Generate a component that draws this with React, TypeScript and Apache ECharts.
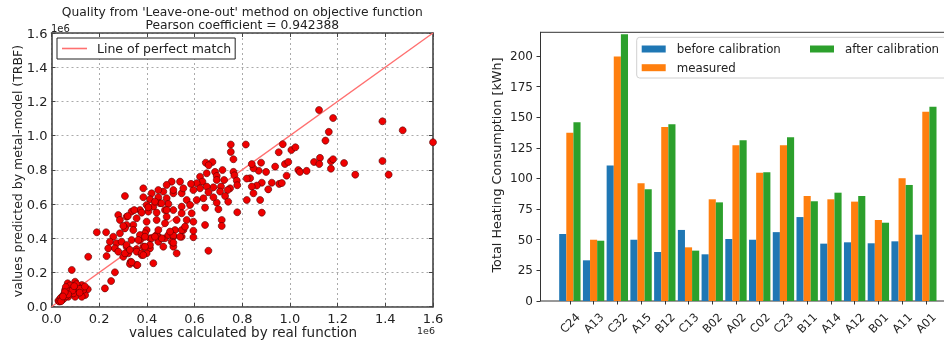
import React, { useEffect, useRef } from "react";
import * as echarts from "echarts";

// ---------- Left chart: leave-one-out quality (values in units of 1e6) ----------
const realVsPredicted: [number, number][] = [
  [1.122, 1.15], [1.181, 1.103], [1.388, 1.084], [1.473, 1.031], [1.6, 0.961], [1.163, 1.022],
  [1.149, 0.971], [0.97, 0.95], [0.953, 0.903], [1.006, 0.916], [1.023, 0.932], [0.879, 0.842],
  [0.938, 0.819], [0.979, 0.834], [0.993, 0.846], [1.101, 0.846], [1.126, 0.87], [1.123, 0.834],
  [1.172, 0.85], [1.181, 0.862], [1.172, 0.807], [1.227, 0.84], [1.388, 0.852], [1.274, 0.772],
  [1.414, 0.772], [1.035, 0.799], [1.042, 0.788], [1.07, 0.794], [0.986, 0.766], [0.955, 0.718],
  [0.966, 0.723], [0.909, 0.686], [0.882, 0.725], [0.861, 0.708], [0.84, 0.702], [0.847, 0.663],
  [0.9, 0.788], [0.869, 0.795], [0.847, 0.809], [0.84, 0.834], [0.833, 0.751],
  [0.752, 0.948], [0.752, 0.905], [0.815, 0.948], [0.763, 0.862], [0.647, 0.842], [0.675, 0.846],
  [0.659, 0.827], [0.717, 0.799], [0.763, 0.788], [0.767, 0.768], [0.686, 0.788], [0.693, 0.764],
  [0.651, 0.78], [0.623, 0.76], [0.633, 0.731], [0.693, 0.741], [0.724, 0.741], [0.777, 0.737],
  [0.819, 0.749], [0.779, 0.71], [0.749, 0.692], [0.711, 0.702], [0.679, 0.698], [0.651, 0.702],
  [0.609, 0.722], [0.623, 0.692], [0.595, 0.682], [0.585, 0.718], [0.658, 0.669], [0.707, 0.673],
  [0.739, 0.682], [0.728, 0.647], [0.741, 0.614], [0.693, 0.608], [0.679, 0.64], [0.637, 0.634],
  [0.609, 0.624], [0.567, 0.624], [0.546, 0.663], [0.511, 0.663], [0.553, 0.692], [0.539, 0.731],
  [0.504, 0.731], [0.511, 0.682], [0.483, 0.712], [0.469, 0.673], [0.448, 0.682], [0.42, 0.663],
  [0.385, 0.692], [0.385, 0.64], [0.413, 0.628], [0.448, 0.64], [0.483, 0.634], [0.49, 0.601],
  [0.455, 0.605], [0.427, 0.585], [0.399, 0.595], [0.371, 0.565], [0.406, 0.556], [0.441, 0.55],
  [0.476, 0.565], [0.511, 0.565], [0.546, 0.585], [0.581, 0.595], [0.546, 0.546], [0.588, 0.546],
  [0.644, 0.579], [0.7, 0.57], [0.714, 0.507], [0.714, 0.472], [0.644, 0.478], [0.567, 0.507],
  [0.525, 0.507], [0.483, 0.526], [0.441, 0.507], [0.399, 0.497], [0.357, 0.517], [0.308, 0.647],
  [0.28, 0.536], [0.287, 0.507], [0.315, 0.526], [0.336, 0.556], [0.343, 0.478], [0.315, 0.478],
  [0.779, 0.552], [0.819, 0.624], [0.875, 0.624], [0.882, 0.55], [0.924, 0.725],
  [0.399, 0.448], [0.518, 0.448], [0.553, 0.448], [0.371, 0.39], [0.413, 0.4], [0.448, 0.409],
  [0.476, 0.4], [0.511, 0.409], [0.546, 0.409], [0.595, 0.406], [0.413, 0.341], [0.469, 0.351],
  [0.511, 0.351], [0.19, 0.435], [0.229, 0.435], [0.259, 0.409], [0.245, 0.38], [0.273, 0.371],
  [0.238, 0.341], [0.266, 0.341], [0.28, 0.322], [0.231, 0.296], [0.154, 0.292], [0.301, 0.292],
  [0.322, 0.312], [0.332, 0.263], [0.329, 0.25], [0.357, 0.244], [0.427, 0.254], [0.266, 0.201],
  [0.25, 0.15], [0.224, 0.107], [0.085, 0.215], [0.357, 0.336], [0.378, 0.302], [0.399, 0.312],
  [0.385, 0.351], [0.413, 0.361], [0.448, 0.38], [0.462, 0.4], [0.49, 0.419], [0.511, 0.415],
  [0.525, 0.312], [0.546, 0.448], [0.658, 0.327], [0.595, 0.497], [0.56, 0.468], [0.441, 0.419],
  [0.42, 0.4], [0.392, 0.429], [0.371, 0.419], [0.343, 0.448], [0.308, 0.458], [0.336, 0.39],
  [0.315, 0.351], [0.294, 0.38], [0.301, 0.472], [0.287, 0.429], [0.32, 0.53], [0.347, 0.565],
  [0.378, 0.55], [0.406, 0.581], [0.434, 0.614], [0.462, 0.605], [0.483, 0.565], [0.315, 0.361],
  [0.308, 0.312], [0.329, 0.332], [0.357, 0.322], [0.378, 0.312], [0.392, 0.351], [0.364, 0.39],
  [0.392, 0.409], [0.434, 0.409], [0.448, 0.448], [0.476, 0.488], [0.497, 0.439], [0.504, 0.38],
  [0.36, 0.244], [0.336, 0.26], [0.511, 0.374], [0.539, 0.409], [0.595, 0.444], [0.385, 0.302],
  [0.068, 0.137], [0.099, 0.146], [0.127, 0.127], [0.152, 0.102], [0.141, 0.068], [0.112, 0.088],
  [0.085, 0.108], [0.057, 0.098], [0.05, 0.068], [0.07, 0.058], [0.099, 0.058], [0.036, 0.043],
  [0.029, 0.035], [0.043, 0.055], [0.127, 0.058], [0.092, 0.078], [0.064, 0.078], [0.112, 0.113],
  [0.133, 0.098], [0.078, 0.125], [0.105, 0.132], [0.12, 0.105], [0.06, 0.115], [0.075, 0.09],
  [0.045, 0.04], [0.038, 0.05], [0.052, 0.048], [0.033, 0.03], [0.04, 0.032], [0.062, 0.062],
  [0.088, 0.095], [0.14, 0.118], [0.095, 0.12], [0.07, 0.072], [0.056, 0.085], [0.048, 0.06],
  [0.118, 0.082],
];
const perfectMatch: [number, number][] = [[0, 0], [1.6, 1.6]];
const scatterMin = 0;
const scatterMax = 1.6;
const scatterStep = 0.2;

// ---------- Right chart: heating consumption per building (kWh) ----------
const buildings = ["C24", "A13", "C32", "A15", "B12", "C13", "B02", "A02", "C02", "C23", "B11", "A14", "A12", "B01", "A11", "A01"];
const beforeCalibration = [54.7, 33.2, 110.5, 50.0, 40.0, 58.0, 38.1, 50.6, 50.0, 56.2, 68.5, 46.8, 47.9, 47.1, 48.7, 54.1];
const measured = [137.4, 50.0, 199.5, 96.1, 142.0, 43.8, 83.0, 127.1, 104.7, 127.1, 85.7, 83.0, 81.1, 66.1, 100.2, 154.5];
const afterCalibration = [145.9, 49.2, 217.7, 91.2, 144.2, 41.1, 80.5, 131.2, 105.0, 133.6, 81.4, 88.4, 85.7, 63.9, 94.7, 158.6];
const barTicks = [0, 25, 50, 75, 100, 125, 150, 175, 200];

const FONT = "DejaVu Sans";

export default function App() {
  const ref = useRef<HTMLDivElement>(null);
  useEffect(() => {
    if (!ref.current) return;
    const chart = echarts.init(ref.current, null, { renderer: "svg" });
    const frameColor = "#444";
    const grid0 = { left: 51.5, top: 33, width: 381.5, height: 273.7 };
    const grid1 = { left: 558, top: 32.3, width: 379.7, height: 268.7 };
    const leftValueAxis = {
      type: "value",
      min: scatterMin,
      max: scatterMax,
      interval: scatterStep,
      axisLine: { show: true, onZero: false, lineStyle: { color: frameColor, width: 1.6 } },
      axisTick: { show: true, inside: true, length: 4, lineStyle: { color: frameColor } },
    };
    const legendText = { fontSize: 11.8, lineHeight: 14, color: "#222", fontFamily: FONT, padding: [0, 0, 0, 6] };
    chart.setOption({
      animation: false,
      textStyle: { fontFamily: FONT },
      grid: [
        { ...grid0, containLabel: false },
        { ...grid1, containLabel: false },
      ],
      xAxis: [
        {
          ...leftValueAxis,
          gridIndex: 0,
          position: "bottom",
          axisLabel: { show: true, margin: 5, fontSize: 13, color: "#222", fontFamily: FONT, formatter: (v: number) => v.toFixed(1) },
          splitLine: { show: true, lineStyle: { type: [2, 3], color: "#aaa", width: 1 } },
        },
        {
          ...leftValueAxis,
          gridIndex: 0,
          position: "top",
          axisLabel: { show: false },
          splitLine: { show: false },
        },
        {
          type: "category",
          gridIndex: 1,
          data: buildings,
          axisLine: { show: false },
          axisTick: { show: true, alignWithLabel: true, length: 3.5, lineStyle: { color: "#333" } },
          axisLabel: { rotate: 45, align: "center", verticalAlign: "middle", margin: 22, fontSize: 11.5, color: "#222", fontFamily: FONT },
        },
      ],
      yAxis: [
        {
          ...leftValueAxis,
          gridIndex: 0,
          position: "left",
          axisLabel: { show: true, margin: 4, fontSize: 13, color: "#222", fontFamily: FONT, formatter: (v: number) => v.toFixed(1) },
          splitLine: { show: true, lineStyle: { type: [2, 3], color: "#aaa", width: 1 } },
        },
        {
          ...leftValueAxis,
          gridIndex: 0,
          position: "right",
          axisLabel: { show: false },
          splitLine: { show: false },
        },
        {
          type: "value",
          gridIndex: 1,
          min: 0,
          max: 219.3,
          interval: 25,
          offset: 18,
          axisLine: { show: true, lineStyle: { color: "#333", width: 1 } },
          axisTick: { show: true, length: 3.5, customValues: barTicks, lineStyle: { color: "#333" } },
          axisLabel: { margin: 7, fontSize: 12, color: "#222", fontFamily: FONT, customValues: barTicks },
          splitLine: { show: false },
        },
      ],
      legend: [
        {
          data: [{ name: "Line of perfect match", icon: "rect" }],
          left: 57,
          top: 38,
          orient: "vertical",
          backgroundColor: "#fff",
          borderColor: "#222",
          borderWidth: 1,
          borderRadius: 0,
          padding: [3.5, 4, 3.5, 5],
          itemWidth: 25,
          itemHeight: 1.6,
          textStyle: { fontSize: 12.5, lineHeight: 14, color: "#222", fontFamily: FONT, padding: [0, 0, 0, 5] },
        },
        {
          data: ["before calibration", "measured"],
          left: 641.7,
          top: 42,
          orient: "vertical",
          padding: 0,
          itemWidth: 24,
          itemHeight: 7,
          itemGap: 4.7,
          icon: "rect",
          textStyle: legendText,
        },
        {
          data: ["after calibration"],
          left: 810,
          top: 42,
          orient: "vertical",
          padding: 0,
          itemWidth: 24,
          itemHeight: 7,
          icon: "rect",
          textStyle: legendText,
        },
      ],
      graphic: [
        { type: "rect", z: 3, shape: { x: 636.7, y: 37.3, width: 330, height: 40.7, r: 3 }, style: { fill: "rgba(255,255,255,0.85)", stroke: "#d0d0d0", lineWidth: 1 } },
        { type: "line", shape: { x1: 540, y1: 32.3, x2: 944, y2: 32.3 }, style: { stroke: "#333", lineWidth: 1 } },
        { type: "line", shape: { x1: 540, y1: 301, x2: 944, y2: 301 }, style: { stroke: "#333", lineWidth: 1 } },
        { type: "text", x: 242.3, y: 12, style: { text: "Quality from 'Leave-one-out' method on objective function", font: `12.3px '${FONT}'`, fill: "#222", align: "center", verticalAlign: "middle" } },
        { type: "text", x: 242.3, y: 25, style: { text: "Pearson coefficient = 0.942388", font: `12.3px '${FONT}'`, fill: "#222", align: "center", verticalAlign: "middle" } },
        { type: "text", x: 51, y: 28, style: { text: "1e6", font: `10px '${FONT}'`, fill: "#222", align: "left", verticalAlign: "middle" } },
        { type: "text", x: 435, y: 330.5, style: { text: "1e6", font: `9.5px '${FONT}'`, fill: "#222", align: "right", verticalAlign: "middle" } },
        { type: "text", x: 243, y: 332, style: { text: "values calculated by real function", font: `13.5px '${FONT}'`, fill: "#222", align: "center", verticalAlign: "middle" } },
        { type: "text", x: 17.5, y: 171, rotation: Math.PI / 2, style: { text: "values predicted by metal-model (TRBF)", font: `12.5px '${FONT}'`, fill: "#222", align: "center", verticalAlign: "middle" } },
        { type: "text", x: 496, y: 165, rotation: Math.PI / 2, style: { text: "Total Heating Consumption [kWh]", font: `12.8px '${FONT}'`, fill: "#222", align: "center", verticalAlign: "middle" } },
      ],
      series: [
        {
          name: "Line of perfect match",
          type: "line",
          xAxisIndex: 0,
          yAxisIndex: 0,
          data: perfectMatch,
          symbol: "none",
          lineStyle: { color: "#ff7070", width: 1.4 },
          itemStyle: { color: "#ff7070" },
          z: 2,
        },
        {
          name: "LOO predictions",
          type: "scatter",
          xAxisIndex: 0,
          yAxisIndex: 0,
          data: realVsPredicted,
          symbolSize: 7,
          itemStyle: { color: "#f00000", borderColor: "#500", borderWidth: 0.6, opacity: 1 },
          z: 3,
        },
        {
          name: "before calibration",
          type: "bar",
          xAxisIndex: 2,
          yAxisIndex: 2,
          data: beforeCalibration,
          barWidth: 7.12,
          barGap: "0%",
          itemStyle: { color: "#1f77b4" },
        },
        {
          name: "measured",
          type: "bar",
          xAxisIndex: 2,
          yAxisIndex: 2,
          data: measured,
          barWidth: 7.12,
          barGap: "0%",
          itemStyle: { color: "#ff7f0e" },
        },
        {
          name: "after calibration",
          type: "bar",
          xAxisIndex: 2,
          yAxisIndex: 2,
          data: afterCalibration,
          barWidth: 7.12,
          barGap: "0%",
          itemStyle: { color: "#2ca02c" },
        },
      ],
    });
    return () => chart.dispose();
  }, []);
  return <div ref={ref} style={{ position: "fixed", left: 0, top: 0, width: 944, height: 343 }} />;
}
